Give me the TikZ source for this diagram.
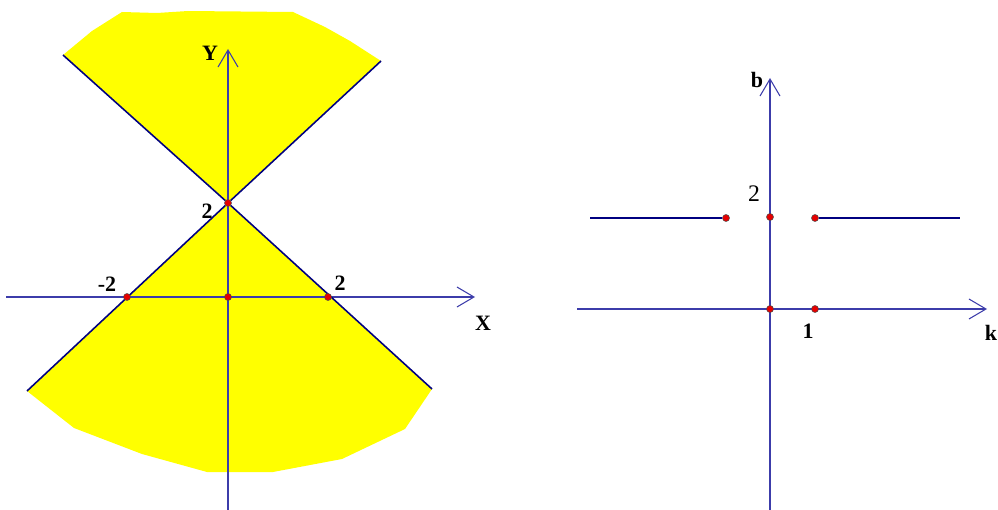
\documentclass[tikz,border=0pt]{standalone}
\usepackage{fontspec}
\setmainfont{Liberation Serif}
\usetikzlibrary{arrows.meta}
\definecolor{axiscol}{RGB}{60,60,170}
\definecolor{linecol}{RGB}{0,0,128}
\definecolor{regcol}{RGB}{255,255,0}
\definecolor{ptcol}{RGB}{230,0,0}

\begin{document}
\begin{tikzpicture}[x=0.02cm, y=-0.02cm,
  axis/.style={draw=axiscol, line width=0.6pt, -{Straight Barb[length=3.4mm, width=4mm, line width=0.6pt]}},
  graphline/.style={draw=linecol, line width=0.9pt},
  pt/.style={circle, fill=ptcol, draw=black!70, line width=0.3pt, inner sep=0pt, minimum size=1.4mm},
  lbl/.style={font=\fontsize{12.5}{14}\selectfont\bfseries, inner sep=0pt}]
  \useasboundingbox (0,0) rectangle (998,510);
  % Left graph: region
  \fill[regcol] (63,55) -- (92,31) -- (122,12) -- (157,13) -- (188,11) -- (293,12)
    -- (325,27) -- (350,41) -- (381,61) -- (228,203) -- cycle;
  \fill[regcol] (228,203) -- (27,391) -- (74,428) -- (142,454) -- (207,472)
    -- (273,472) -- (342,459) -- (405,429) -- (432,389) -- cycle;
  \coordinate (xs) at (6,297);
  \coordinate (xe) at (475,297);
  \coordinate (ys) at (228,510);
  \coordinate (ye) at (228,49);
  \draw[axis] (xs) -- (xe);
  \draw[axis] (ys) -- (ye);
  \coordinate (ul) at (63,55);
  \coordinate (ur) at (381,61);
  \coordinate (dl) at (27,391);
  \coordinate (dr) at (432,389);
  \node[pt] (top) at (228,203) {};
  \draw[graphline] (ul) -- (top) -- (dr);
  \draw[graphline] (ur) -- (top) -- (dl);
  \foreach \x/\n in {127/m, 228/o, 328/p}{
    \node[pt] (a\n) at (\x,297) {};
  }
  \node[lbl] (ly) at (210,53) {Y};
  \node[lbl] (lx) at (483,323) {X};
  \node[lbl] (l2) at (207,211) {2};
  \node[lbl] (lm) at (107,284) {-2};
  \node[lbl] (lp) at (340,283) {2};
  % Right graph
  \begin{scope}
  \coordinate (ks) at (577,309);
  \coordinate (ke) at (987,309);
  \coordinate (bs) at (770,510);
  \coordinate (be) at (770,78);
  \draw[axis] (ks) -- (ke);
  \draw[axis] (bs) -- (be);
  \coordinate (hl) at (590,218);
  \coordinate (hr) at (960,218);
  \node[pt] (pl) at (726,218) {};
  \node[pt] (pr) at (815,218) {};
  \node[pt] (pb) at (770,217) {};
  \node[pt] (po) at (770,309) {};
  \node[pt] (pk) at (815,309) {};
  \draw[graphline] (hl) -- (pl);
  \draw[graphline] (pr) -- (hr);
  \node[lbl] (lb) at (757,80) {b};
  \node[lbl] (lk) at (991,333) {k};
  \node[lbl] (l1) at (808,331) {1};
  \node[font=\fontsize{13.5}{15}\selectfont, inner sep=0pt] (lb2) at (754,194) {2};
  \end{scope}
\end{tikzpicture}
\end{document}
